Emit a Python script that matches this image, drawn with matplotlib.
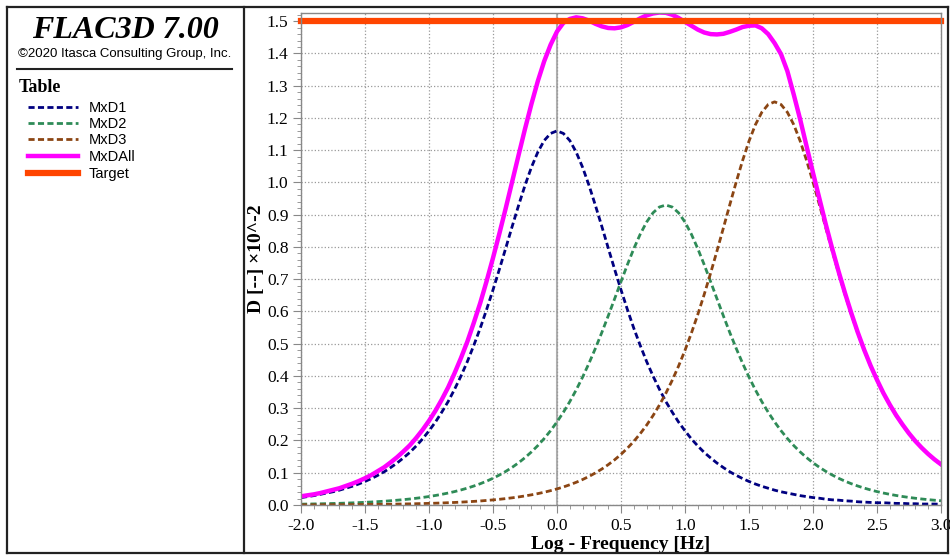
import numpy as np
import matplotlib
matplotlib.use('Agg')
import matplotlib.pyplot as plt
from matplotlib.lines import Line2D
from matplotlib.ticker import MultipleLocator, FormatStrFormatter

plt.rcParams['axes.unicode_minus'] = False

# log-frequency sample grid, -2.0 .. 3.0 every 0.05
log_f = np.linspace(-2.0, 3.0, 101)

mxd1 = [0.023, 0.026, 0.029, 0.033, 0.037, 0.041, 0.046, 0.052, 0.058, 0.065,
        0.073, 0.082, 0.092, 0.103, 0.116, 0.130, 0.146, 0.163, 0.183, 0.205,
        0.230, 0.257, 0.288, 0.321, 0.359, 0.400, 0.445, 0.495, 0.548, 0.606,
        0.667, 0.731, 0.797, 0.864, 0.929, 0.991, 1.047, 1.094, 1.130, 1.152,
        1.160,
        1.152, 1.130, 1.094, 1.047, 0.991, 0.929, 0.864, 0.797, 0.731, 0.667,
        0.606, 0.548, 0.495, 0.445, 0.400, 0.359, 0.321, 0.288, 0.257, 0.230,
        0.205, 0.183, 0.163, 0.146, 0.130, 0.116, 0.103, 0.092, 0.082, 0.073,
        0.065, 0.058, 0.052, 0.046, 0.041, 0.037, 0.033, 0.029, 0.026, 0.023,
        0.021, 0.018, 0.016, 0.015, 0.013, 0.012, 0.010, 0.009, 0.008, 0.007,
        0.007, 0.006, 0.005, 0.005, 0.004, 0.004, 0.003, 0.003, 0.003, 0.002]

mxd2 = [0.0026, 0.0029, 0.0033, 0.0037, 0.0042, 0.0047, 0.0052, 0.0059, 0.0066, 0.0074,
        0.0083, 0.0093, 0.0105, 0.0117, 0.0132, 0.0148, 0.0166, 0.0186, 0.0209, 0.0234,
        0.0263, 0.0295, 0.0331, 0.0371, 0.0416, 0.0467, 0.0524, 0.0588, 0.0659, 0.0739,
        0.0829, 0.0930, 0.1043, 0.1169, 0.1310, 0.1468, 0.1645, 0.1842, 0.2061, 0.2305,
        0.2576, 0.2876, 0.3206, 0.3569, 0.3965, 0.4395, 0.4856, 0.5347, 0.5862, 0.6392,
        0.6926, 0.7451, 0.7947, 0.8394, 0.8772, 0.9059, 0.9239, 0.9300,
        0.9239, 0.9059, 0.8772, 0.8394, 0.7947, 0.7451, 0.6926, 0.6392, 0.5862, 0.5347,
        0.4856, 0.4395, 0.3965, 0.3569, 0.3206, 0.2876, 0.2576, 0.2305, 0.2061, 0.1842,
        0.1645, 0.1468, 0.1310, 0.1169, 0.1043, 0.0930, 0.0829, 0.0739, 0.0659, 0.0588,
        0.0524, 0.0467, 0.0416, 0.0371, 0.0331, 0.0295, 0.0263, 0.0234, 0.0209, 0.0186,
        0.0166, 0.0148, 0.0132]

mxd3 = [0.0005, 0.0006, 0.0006, 0.0007, 0.0008, 0.0009, 0.0010, 0.0011, 0.0013, 0.0014,
        0.0016, 0.0018, 0.0020, 0.0022, 0.0025, 0.0028, 0.0032, 0.0035, 0.0040, 0.0045,
        0.0050, 0.0056, 0.0063, 0.0071, 0.0079, 0.0089, 0.0100, 0.0112, 0.0125, 0.0141,
        0.0158, 0.0177, 0.0199, 0.0223, 0.0250, 0.0281, 0.0315, 0.0353, 0.0396, 0.0445,
        0.0499, 0.0559, 0.0628, 0.0704, 0.0790, 0.0886, 0.0994, 0.1115, 0.1250, 0.1401,
        0.1571, 0.1761, 0.1973, 0.2211, 0.2475, 0.2770, 0.3098, 0.3462, 0.3865, 0.4310,
        0.4797, 0.5330, 0.5907, 0.6528, 0.7187, 0.7879, 0.8591, 0.9310, 1.0014, 1.0681,
        1.1282, 1.1790, 1.2176, 1.2418, 1.2500,
        1.2418, 1.2176, 1.1790, 1.1282, 1.0681, 1.0014, 0.9310, 0.8591, 0.7879, 0.7187,
        0.6528, 0.5907, 0.5330, 0.4797, 0.4310, 0.3865, 0.3462, 0.3098, 0.2770, 0.2475,
        0.2211, 0.1973, 0.1761, 0.1571, 0.1401, 0.1250]

mxd_all = [0.027, 0.030, 0.033, 0.037, 0.042, 0.047, 0.052, 0.059, 0.066, 0.074,
           0.083, 0.093, 0.105, 0.117, 0.132, 0.148, 0.166, 0.185, 0.208, 0.233,
           0.261, 0.292, 0.327, 0.365, 0.409, 0.456, 0.507, 0.565, 0.626, 0.694,
           0.766, 0.842, 0.921, 1.003, 1.085, 1.166, 1.243, 1.314, 1.376, 1.427,
           1.468,
           1.495, 1.507, 1.512, 1.509, 1.502, 1.492, 1.484, 1.479, 1.478, 1.481,
           1.488, 1.498, 1.509, 1.518, 1.524, 1.527, 1.526, 1.520, 1.510, 1.498,
           1.486, 1.474, 1.465, 1.460, 1.459, 1.461, 1.467, 1.474, 1.482, 1.486,
           1.487, 1.478, 1.460, 1.432, 1.398, 1.345, 1.272, 1.195, 1.112, 1.030,
           0.950, 0.870, 0.795, 0.724, 0.657, 0.594, 0.535, 0.481, 0.432, 0.388,
           0.347, 0.311, 0.278, 0.249, 0.222, 0.198, 0.177, 0.158, 0.141, 0.126]

target_x = [-2.0, 3.0]
target_y = [1.5, 1.5]

labels = ['MxD1', 'MxD2', 'MxD3', 'MxDAll', 'Target']
colors = ['#000080', '#2E8B57', '#8B4513', '#FF00FF', '#FF4500']

fig = plt.figure(figsize=(9.5, 5.56), dpi=100)
W, H = 950.0, 556.0

ax = fig.add_axes([301 / W, 1 - 505 / H, 640 / W, 492.5 / H])

dash = (0, (2.2, 1.2))
ax.plot(log_f, mxd1, color=colors[0], lw=2.0, linestyle=dash)
ax.plot(log_f, mxd2, color=colors[1], lw=2.0, linestyle=dash)
ax.plot(log_f, mxd3, color=colors[2], lw=2.0, linestyle=dash)
ax.plot(log_f, mxd_all, color=colors[3], lw=3.2)
ax.plot(target_x, target_y, color=colors[4], lw=4.5, solid_capstyle='projecting',
        clip_on=False)

ax.set_xlim(-2.0, 3.0)
ax.set_ylim(0.0, 1.527)
ax.xaxis.set_major_locator(MultipleLocator(0.5))
ax.xaxis.set_minor_locator(MultipleLocator(0.1))
ax.yaxis.set_major_locator(MultipleLocator(0.1))
ax.yaxis.set_minor_locator(MultipleLocator(0.02))
ax.xaxis.set_major_formatter(FormatStrFormatter('%.1f'))
ax.yaxis.set_major_formatter(FormatStrFormatter('%.1f'))

ax.grid(True, which='major', color='#999999', linestyle=':', lw=0.9)
ax.axvline(0.0, color='#b0b0b0', lw=1.5, zorder=0.5)
ax.set_axisbelow(True)

for s in ax.spines.values():
    s.set_color('#888888')
    s.set_linewidth(1.0)
ax.tick_params(which='major', length=6, color='#888888', labelsize=12.5, pad=3)
ax.tick_params(which='minor', length=3, color='#888888')
for lab in ax.get_xticklabels() + ax.get_yticklabels():
    lab.set_family('Liberation Serif')

ax.set_xlabel('Log - Frequency [Hz]', family='Liberation Serif', fontweight='bold',
              fontsize=14, labelpad=1.5)
ax.set_ylabel('D [--] \u00d710^-2', family='Liberation Serif', fontweight='bold',
              fontsize=14, labelpad=1)

# frame and left panel
frame = [([7, 948], [7, 7]), ([7, 948], [553, 553]), ([7, 7], [7, 553]),
         ([948, 948], [7, 553]), ([243.5, 243.5], [7, 553])]
for xs, ys in frame:
    fig.add_artist(Line2D([x / W for x in xs], [1 - y / H for y in ys],
                          color='#222222', lw=1.6))

fig.text(125 / W, 1 - 31 / H, 'FLAC3D 7.00', family='Liberation Serif',
         fontweight='bold', style='italic', fontsize=23, ha='center', va='center')
fig.text(125 / W, 1 - 54 / H, '\u00a92020 Itasca Consulting Group, Inc.',
         family='Liberation Sans', fontsize=9.5, ha='center', va='center')
fig.add_artist(Line2D([17 / W, 232 / W], [1 - 69 / H, 1 - 69 / H], color='#222222', lw=1.5))
fig.text(19 / W, 1 - 88 / H, 'Table', family='Liberation Serif', fontweight='bold',
         fontsize=13, ha='left', va='center')

legend_y = [107, 123, 138.5, 156, 173]
styles = [dict(lw=2.0, linestyle=dash), dict(lw=2.0, linestyle=dash),
          dict(lw=2.0, linestyle=dash), dict(lw=3.2), dict(lw=4.5)]
for lab, c, yy, st in zip(labels, colors, legend_y, styles):
    fig.add_artist(Line2D([28 / W, 78 / W], [1 - yy / H, 1 - yy / H], color=c, **st))
    fig.text(89 / W, 1 - (yy + 1) / H, lab, family='Liberation Sans', fontsize=10.5,
             ha='left', va='center')

fig.savefig('out.png', dpi=100)
